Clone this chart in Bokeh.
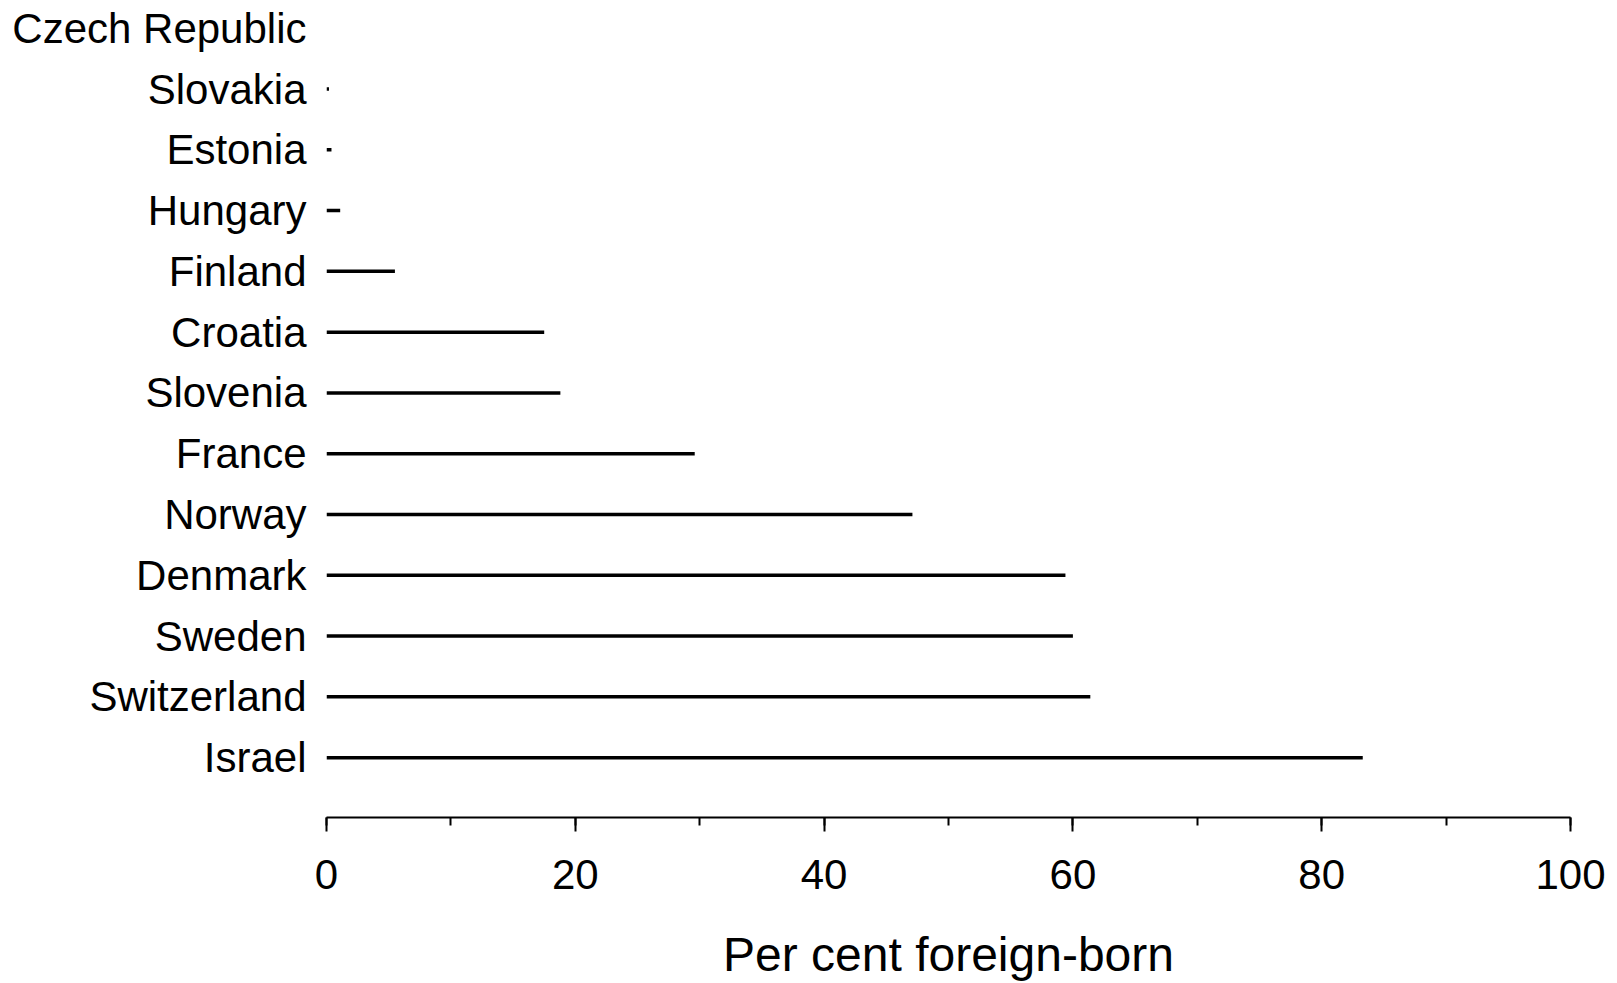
from bokeh.plotting import figure
from bokeh.models import Range1d, SingleIntervalTicker, FixedTicker, ColumnDataSource
from bokeh.embed import file_html
from bokeh.resources import INLINE

# Data (top to bottom in the chart)
countries = ["Czech Republic", "Slovakia", "Estonia", "Hungary", "Finland", "Croatia",
             "Slovenia", "France", "Norway", "Denmark", "Sweden", "Switzerland", "Israel"]
values = [0.0, 0.2, 0.4, 1.1, 5.5, 17.5, 18.8, 29.6, 47.1, 59.4, 60.0, 61.4, 83.3]
x_ticks = [0, 20, 40, 60, 80, 100]
x_title = "Per cent foreign-born"

n = len(countries)
positions = [n - i for i in range(n)]  # top = n, bottom = 1

src = ColumnDataSource(dict(country=countries, value=values, pos=positions,
                            zero=[0.0] * n))

W, H = 1610, 983
p = figure(width=W, height=H, output_backend="svg", toolbar_location=None,
           x_range=Range1d(0, 100), y_range=Range1d(0.015, 13.456),
           min_border_left=326, min_border_right=40, min_border_top=0,
           min_border_bottom=150)
p.outline_line_color = None
p.grid.visible = False
p.background_fill_color = "white"
p.border_fill_color = "white"

p.segment(x0="zero", y0="pos", x1="value", y1="pos", source=src,
          line_color="black", line_width=3.5)

FONT = "Liberation Sans"

xa = p.xaxis[0]
xa.ticker = SingleIntervalTicker(interval=20, num_minor_ticks=2)
xa.bounds = (x_ticks[0], x_ticks[-1])
xa.axis_line_width = 2
xa.axis_line_color = "black"
xa.major_tick_line_width = 2
xa.minor_tick_line_width = 2
xa.major_tick_out = 14
xa.major_tick_in = 0
xa.minor_tick_out = 8
xa.minor_tick_in = 0
xa.major_label_text_font = FONT
xa.major_label_text_font_size = "42px"
xa.major_label_text_color = "black"
xa.major_label_standoff = 28
xa.axis_label = x_title
xa.axis_label_text_font = FONT
xa.axis_label_text_font_size = "48px"
xa.axis_label_text_font_style = "normal"
xa.axis_label_text_color = "black"
xa.axis_label_standoff = 36

ya = p.yaxis[0]
ya.ticker = FixedTicker(ticks=positions)
ya.major_label_overrides = {pos: c for pos, c in zip(positions, countries)}
ya.axis_line_color = None
ya.major_tick_line_color = None
ya.minor_tick_line_color = None
ya.major_tick_out = 0
ya.major_tick_in = 0
ya.minor_tick_out = 0
ya.major_label_text_font = FONT
ya.major_label_text_font_size = "42px"
ya.major_label_text_color = "black"
ya.major_label_standoff = 20

open("out.html", "w").write(file_html(p, INLINE))
